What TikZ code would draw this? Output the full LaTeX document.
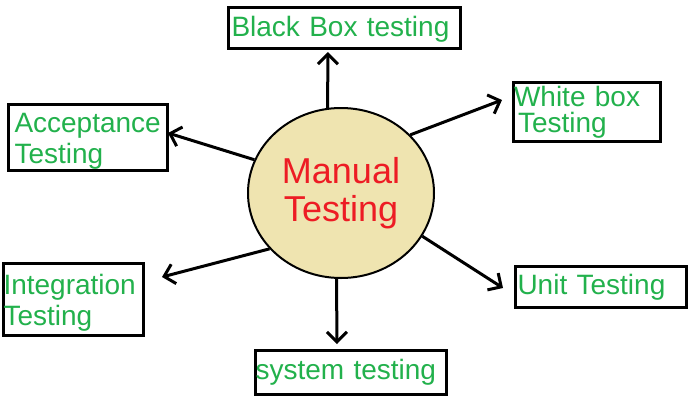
\documentclass[tikz,border=0pt]{standalone}
\usepackage{fontspec}
\setmainfont{Liberation Sans}
\usetikzlibrary{shapes.geometric,arrows.meta}
\definecolor{tgreen}{RGB}{34,177,76}
\definecolor{tred}{RGB}{237,28,36}
\definecolor{cfill}{RGB}{239,228,176}
\newcommand{\topstrut}{\rule{0pt}{26pt}}
\begin{document}
\begin{tikzpicture}[x=1pt,y=-1pt,
  tbox/.style={draw, line width=3pt, align=left, text=tgreen,
    font=\fontsize{28}{31}\selectfont, inner ysep=0pt},
  arr/.style={line width=3pt, -{Straight Barb[length=10pt,width=20pt]}}]
\fill[white] (0,0) rectangle (691,397);
\useasboundingbox (0,0) rectangle (691,397);

\node[ellipse, draw, line width=2pt, fill=cfill, minimum width=186pt,
  minimum height=170pt, inner sep=0pt, align=center, text=tred,
  font=\fontsize{36}{38}\selectfont] (mt) at (341,193) {Manual\\Testing};

\node[tbox, inner xsep=3pt, text width=226pt, minimum height=41pt]
  (bb) at (344.5,28) {\rule{0pt}{23pt}Black Box testing};
\node[tbox, inner xsep=6pt, text width=147pt, minimum height=66pt]
  (ac) at (88,137.5) {\topstrut Acceptance\\Testing};
\node[tbox, inner xsep=0.5pt, text width=146pt, minimum height=59pt,
  font=\fontsize{28}{26}\selectfont]
  (wb) at (587,112) {White box\\\hspace*{4pt}Testing};
\node[tbox, inner xsep=0pt, text width=140pt, minimum height=72pt]
  (in) at (73.5,299.5) {\topstrut Integration\\Testing};
\node[tbox, inner xsep=2pt, text width=167pt, minimum height=41pt]
  (ut) at (601,287) {Unit Testing};
\node[tbox, inner xsep=0pt, text width=191pt, minimum height=44pt]
  (st) at (351,372.5) {system testing};

\coordinate (bbtip) at (328,52);
\coordinate (wbtip) at (502,100);
\coordinate (actip) at (168,133);
\coordinate (intip) at (162,277);
\coordinate (uttip) at (503,288);
\coordinate (sttip) at (337,344);

\draw[arr] (mt.99) -- (bbtip);
\draw[arr] (mt.40) -- (wbtip);
\draw[arr] (mt.159) -- (actip);
\draw[arr] (mt.218) -- (intip);
\draw[arr] (mt.332) -- (uttip);
\draw[arr] (mt.267) -- (sttip);
\end{tikzpicture}
\end{document}
